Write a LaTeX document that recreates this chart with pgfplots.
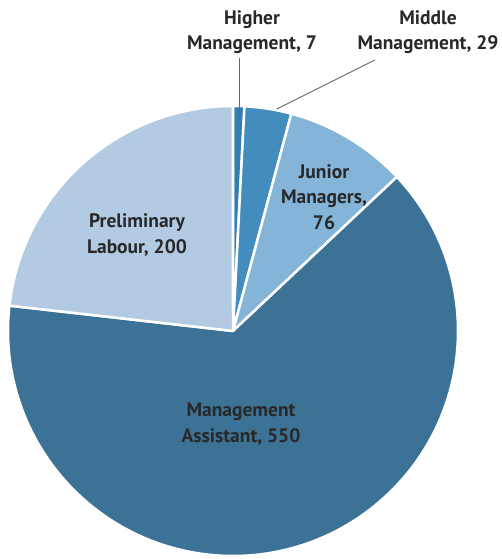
\documentclass[border=0pt]{standalone}
\usepackage{fontspec}
\setmainfont{PT Sans}
\usepackage{pgfplots}
\usepackage{pgfplotstable}
\pgfplotsset{compat=1.18}
\definecolor{cHM}{RGB}{52,125,180}
\definecolor{cMM}{RGB}{66,140,190}
\definecolor{cJM}{RGB}{132,181,216}
\definecolor{cMA}{RGB}{60,114,150}
\definecolor{cPL}{RGB}{179,203,226}
\definecolor{txt}{RGB}{40,40,40}
\pgfplotstableread{
label value
HM 7
MM 29
JM 76
MA 550
PL 200
}\pietable
\begin{document}
\begin{tikzpicture}
\pgfplotstablegetelem{0}{value}\of\pietable \let\vA\pgfplotsretval
\pgfplotstablegetelem{1}{value}\of\pietable \let\vB\pgfplotsretval
\pgfplotstablegetelem{2}{value}\of\pietable \let\vC\pgfplotsretval
\pgfplotstablegetelem{3}{value}\of\pietable \let\vD\pgfplotsretval
\pgfplotstablegetelem{4}{value}\of\pietable \let\vE\pgfplotsretval
\pgfmathsetmacro\total{\vA+\vB+\vC+\vD+\vE}
\pgfmathsetmacro\aA{90}
\pgfmathsetmacro\aB{\aA-360*(\vA/\total)}
\pgfmathsetmacro\aC{\aB-360*(\vB/\total)}
\pgfmathsetmacro\aD{\aC-360*(\vC/\total)}
\pgfmathsetmacro\aE{\aD-360*(\vD/\total)}
\pgfmathsetmacro\aF{\aE-360*(\vE/\total)}
\def\R{225}
\begin{axis}[
  width=502pt, height=559pt, scale only axis,
  xmin=-233, xmax=269, ymin=-228, ymax=331,
  hide axis, clip=false,
]
\coordinate (bl) at (rel axis cs:0,0);
\coordinate (tr) at (rel axis cs:1,1);
\fill[cHM, draw=white, line width=2.5pt, line join=round] (axis cs:0,0) -- (axis cs:{\R*cos(\aA)},{\R*sin(\aA)}) arc[start angle=\aA, end angle=\aB, radius=\R] -- cycle;
\fill[cMM, draw=white, line width=2.5pt, line join=round] (axis cs:0,0) -- (axis cs:{\R*cos(\aB)},{\R*sin(\aB)}) arc[start angle=\aB, end angle=\aC, radius=\R] -- cycle;
\fill[cJM, draw=white, line width=2.5pt, line join=round] (axis cs:0,0) -- (axis cs:{\R*cos(\aC)},{\R*sin(\aC)}) arc[start angle=\aC, end angle=\aD, radius=\R] -- cycle;
\fill[cMA, draw=white, line width=2.5pt, line join=round] (axis cs:0,0) -- (axis cs:{\R*cos(\aD)},{\R*sin(\aD)}) arc[start angle=\aD, end angle=\aE, radius=\R] -- cycle;
\fill[cPL, draw=white, line width=2.5pt, line join=round] (axis cs:0,0) -- (axis cs:{\R*cos(\aE)},{\R*sin(\aE)}) arc[start angle=\aE, end angle=\aF, radius=\R] -- cycle;
\draw[gray!80!black, line width=0.9pt] (axis cs:6,273) -- (axis cs:6,213);
\draw[gray!80!black, line width=0.9pt] (axis cs:142,271) -- (axis cs:44,222);
\tikzset{lab/.style={align=center, text=txt, font=\fontsize{19.5}{25.5}\selectfont\bfseries, inner sep=0pt}}
\node[lab] at (axis cs:19,299) {Higher\\Management, 7};
\node[lab] at (axis cs:195,299) {Middle\\Management, 29};
\node[lab] at (axis cs:91,134) {Junior\\Managers,\\76};
\node[lab] at (axis cs:-96,96) {Preliminary\\Labour, 200};
\node[lab] at (axis cs:8,-93) {Management\\Assistant, 550};
\end{axis}
\pgfresetboundingbox
\useasboundingbox (bl) rectangle (tr);
\end{tikzpicture}
\end{document}
